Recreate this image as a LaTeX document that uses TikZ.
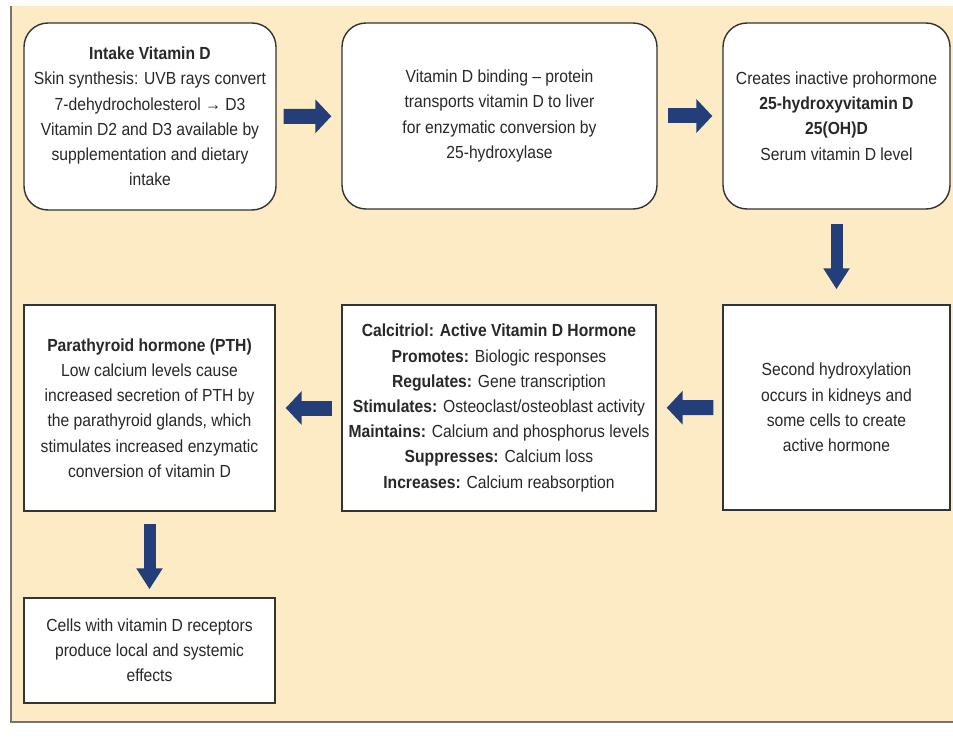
\documentclass[tikz,border=0pt]{standalone}
\usepackage{fontspec}
\setmainfont{Liberation Sans}[FakeStretch=0.895]
\usetikzlibrary{arrows.meta}
\definecolor{panel}{RGB}{253,235,198}
\definecolor{arrowc}{RGB}{36,62,122}
\definecolor{txt}{RGB}{40,40,40}
\begin{document}
\begin{tikzpicture}[x=1pt,y=-1pt,
  box/.style={draw=black!80, line width=1.4pt, fill=white, align=center, text=txt,
    font=\fontsize{17.5}{25.2}\selectfont, inner sep=0pt},
  rbox/.style={box, rounded corners=24pt},
  harrow/.style={draw=arrowc, line width=15pt, -{Triangle[length=16pt,width=33pt]}},
  varrow/.style={draw=arrowc, line width=12pt, -{Triangle[length=21pt,width=25pt]}}]
\useasboundingbox (0,0) rectangle (953,754);
\fill[panel] (11,6) rectangle (953,722);
\draw[black!55, line width=2pt] (11,6) -- (11,722) -- (953,722);

\node[rbox, minimum width=252pt, minimum height=187pt] (b1) at (150,116.5)
  {\textbf{Intake Vitamin D}\\Skin synthesis: UVB rays convert\\7-dehydrocholesterol → D3\\Vitamin D2 and D3 available by\\supplementation and dietary\\intake};
\node[rbox, minimum width=315pt, minimum height=186pt] (b2) at (499.5,116)
  {Vitamin D binding – protein\\transports vitamin D to liver\\for enzymatic conversion by\\25-hydroxylase};
\node[rbox, minimum width=227pt, minimum height=186pt] (b3) at (836.5,116)
  {Creates inactive prohormone\\\textbf{25-hydroxyvitamin D}\\\textbf{25(OH)D}\\Serum vitamin D level};
\node[box, minimum width=227pt, minimum height=205pt] (b6) at (836.5,407.5)
  {Second hydroxylation\\occurs in kidneys and\\some cells to create\\active hormone};
\node[box, minimum width=314pt, minimum height=206pt] (b5) at (499,408)
  {\textbf{Calcitriol: Active Vitamin D Hormone}\\\textbf{Promotes:} Biologic responses\\\textbf{Regulates:} Gene transcription\\\textbf{Stimulates:} Osteoclast/osteoblast activity\\\textbf{Maintains:} Calcium and phosphorus levels\\\textbf{Suppresses:} Calcium loss\\\textbf{Increases:} Calcium reabsorption};
\node[box, minimum width=251pt, minimum height=206pt] (b4) at (149.5,408)
  {\textbf{Parathyroid hormone (PTH)}\\Low calcium levels cause\\increased secretion of PTH by\\the parathyroid glands, which\\stimulates increased enzymatic\\conversion of vitamin D};
\node[box, minimum width=251pt, minimum height=105pt] (b7) at (149.5,650.5)
  {Cells with vitamin D receptors\\produce local and systemic\\effects};

\draw[harrow, shorten <=7pt, shorten >=10pt] (b1) -- (b2);
\draw[harrow, shorten <=10pt, shorten >=10pt] (b2) -- (b3);
\draw[varrow, shorten <=14pt, shorten >=15pt] (b3) -- (b6);
\draw[harrow, shorten <=9pt, shorten >=10pt] (b6) -- (b5);
\draw[harrow, shorten <=9pt, shorten >=10pt] (b5) -- (b4);
\draw[varrow, shorten <=12pt, shorten >=8pt] (b4) -- (b7);
\end{tikzpicture}
\end{document}
